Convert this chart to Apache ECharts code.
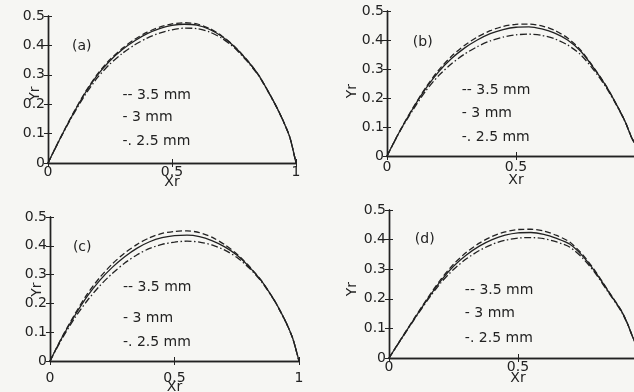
<!DOCTYPE html>
<html>
<head>
<meta charset="utf-8">
<script src="https://cdn.jsdelivr.net/npm/echarts@6/dist/echarts.min.js"></script>
<style>
  html, body { margin: 0; padding: 0; background: #f6f6f3; }
  #chart { width: 634px; height: 392px; }
</style>
</head>
<body>
<div id="chart"></div>
<script>
// Normalised abscissa Xr shared by every profile
const xr = [0, 0.05, 0.1, 0.15, 0.2, 0.25, 0.3, 0.35, 0.4, 0.45, 0.5, 0.55, 0.6, 0.65, 0.7, 0.75, 0.8, 0.85, 0.9, 0.925, 0.95, 0.975, 1];

// Panel (a): Yr profiles for 3.5 mm, 3 mm, 2.5 mm
const a35 = [0, 0.086, 0.167, 0.241, 0.303, 0.352, 0.39, 0.421, 0.445, 0.462, 0.473, 0.477, 0.473, 0.458, 0.433, 0.398, 0.353, 0.298, 0.225, 0.185, 0.14, 0.088, 0];
const a30 = [0, 0.085, 0.165, 0.238, 0.3, 0.348, 0.386, 0.416, 0.44, 0.457, 0.468, 0.472, 0.469, 0.455, 0.431, 0.397, 0.352, 0.298, 0.225, 0.185, 0.14, 0.088, 0];
const a25 = [0, 0.084, 0.162, 0.232, 0.291, 0.337, 0.373, 0.402, 0.425, 0.442, 0.453, 0.459, 0.457, 0.446, 0.425, 0.393, 0.349, 0.296, 0.224, 0.184, 0.14, 0.088, 0];

// Panel (b)
const b35 = [0, 0.087, 0.165, 0.236, 0.296, 0.344, 0.381, 0.41, 0.432, 0.447, 0.454, 0.455, 0.449, 0.433, 0.407, 0.366, 0.307, 0.241, 0.16, 0.115, 0.06, 0.025, 0];
const b30 = [0, 0.086, 0.163, 0.232, 0.29, 0.336, 0.372, 0.4, 0.422, 0.436, 0.444, 0.445, 0.438, 0.424, 0.4, 0.362, 0.305, 0.24, 0.16, 0.115, 0.06, 0.025, 0];
const b25 = [0, 0.085, 0.158, 0.224, 0.277, 0.318, 0.351, 0.377, 0.397, 0.41, 0.418, 0.42, 0.416, 0.404, 0.383, 0.35, 0.298, 0.236, 0.158, 0.114, 0.06, 0.025, 0];

// Panel (c)
const c35 = [0, 0.086, 0.163, 0.233, 0.29, 0.337, 0.375, 0.405, 0.428, 0.443, 0.45, 0.452, 0.446, 0.43, 0.405, 0.372, 0.329, 0.278, 0.212, 0.173, 0.13, 0.078, 0];
const c30 = [0, 0.084, 0.158, 0.225, 0.28, 0.325, 0.362, 0.392, 0.414, 0.428, 0.435, 0.437, 0.432, 0.418, 0.397, 0.368, 0.327, 0.277, 0.212, 0.173, 0.13, 0.078, 0];
const c25 = [0, 0.08, 0.15, 0.21, 0.261, 0.304, 0.34, 0.369, 0.391, 0.405, 0.413, 0.416, 0.413, 0.403, 0.386, 0.36, 0.323, 0.275, 0.211, 0.172, 0.13, 0.078, 0];

// Panel (d)
const d35 = [0, 0.069, 0.137, 0.203, 0.265, 0.317, 0.357, 0.388, 0.411, 0.426, 0.434, 0.435, 0.429, 0.414, 0.392, 0.35, 0.293, 0.227, 0.161, 0.115, 0.06, 0.028, 0];
const d30 = [0, 0.068, 0.135, 0.2, 0.26, 0.31, 0.348, 0.378, 0.4, 0.415, 0.423, 0.424, 0.418, 0.404, 0.385, 0.345, 0.29, 0.225, 0.16, 0.115, 0.06, 0.028, 0];
const d25 = [0, 0.067, 0.133, 0.196, 0.253, 0.299, 0.335, 0.363, 0.384, 0.398, 0.405, 0.407, 0.403, 0.392, 0.375, 0.338, 0.286, 0.222, 0.158, 0.114, 0.06, 0.028, 0];

const panelTags = ['(a)', '(b)', '(c)', '(d)'];
const seriesNames = ['3.5 mm', '3 mm', '2.5 mm'];
const keyTexts = ['-- 3.5 mm', '- 3 mm', '-. 2.5 mm'];
const xAxisName = 'Xr';
const yAxisName = 'Yr';

const panelData = [[a35, a30, a25], [b35, b30, b25], [c35, c30, c25], [d35, d30, d25]];

// ---- layout and styling ----
const INK = '#222222';
const FONT = 'DejaVu Sans';
const FS = 14;
const grids = [
  { left: 48,  top: 16,  width: 248, height: 147 },
  { left: 387, top: 11,  width: 258, height: 145 },
  { left: 50,  top: 217, width: 249, height: 144 },
  { left: 389, top: 210, width: 258, height: 148 }
];
const xLabelMargins = [2, 4, 10, 2];
const xNameGaps = [12, 17, 19, 13];
// y-axis title: horizontal pixel offset from the left axis, vertical position in data units
const yTitlePos = [[-13, 0.236], [-35, 0.224], [-13, 0.248], [-37, 0.233]];
const lineTypes = [[6, 3], 'solid', [7, 2.5, 1.5, 2.5]];
// key text anchor and tag anchor (data coordinates inside each panel)
const keyPos = [
  { x: 0.30, y: [0.231, 0.155, 0.072] },
  { x: 0.29, y: [0.228, 0.148, 0.066] },
  { x: 0.293, y: [0.255, 0.147, 0.063] },
  { x: 0.294, y: [0.23, 0.151, 0.068] }
];
const tagPos = [[0.097, 0.397], [0.10, 0.393], [0.092, 0.395], [0.10, 0.40]];

const chart = echarts.init(document.getElementById('chart'), null, { renderer: 'canvas' });

const xAxes = [], yAxes = [], series = [];
grids.forEach((g, i) => {
  const baseLabel = { color: INK, fontFamily: FONT, fontSize: FS };
  const nameStyle = { color: INK, fontFamily: FONT, fontSize: FS };
  const frameLine = { show: true, lineStyle: { color: INK, width: 1.4 } };
  const inTick = { show: true, inside: true, length: 4, lineStyle: { color: INK } };
  xAxes.push({
    type: 'value', gridIndex: i, min: 0, max: 1, interval: 0.5, position: 'bottom',
    name: xAxisName, nameLocation: 'middle', nameGap: xNameGaps[i], nameMoveOverlap: false,
    nameTextStyle: nameStyle,
    axisLine: frameLine, axisTick: inTick,
    axisLabel: Object.assign({ margin: xLabelMargins[i], formatter: v => String(v) }, baseLabel),
    splitLine: { show: false }
  });
  xAxes.push({
    type: 'value', gridIndex: i, min: 0, max: 1, interval: 0.5, position: 'top',
    axisLine: frameLine, axisTick: inTick,
    axisLabel: { show: false }, splitLine: { show: false }
  });
  yAxes.push({
    type: 'value', gridIndex: i, min: 0, max: 0.5, interval: 0.1, position: 'left',
    axisLine: frameLine, axisTick: inTick,
    axisLabel: Object.assign({ margin: 3, formatter: v => String(+v.toFixed(1)) }, baseLabel),
    splitLine: { show: false }
  });
  yAxes.push({
    type: 'value', gridIndex: i, min: 0, max: 0.5, interval: 0.1, position: 'right',
    axisLine: frameLine, axisTick: inTick,
    axisLabel: { show: false }, splitLine: { show: false }
  });
  panelData[i].forEach((ys, k) => {
    series.push({
      type: 'line', name: seriesNames[k],
      xAxisIndex: 2 * i, yAxisIndex: 2 * i,
      data: xr.map((x, j) => [x, ys[j]]),
      showSymbol: false, smooth: 0.25, silent: true,
      lineStyle: { color: INK, width: 1.3, type: lineTypes[k] },
      z: 3 - k
    });
  });
});

chart.setOption({
  backgroundColor: '#f6f6f3',
  animation: false,
  grid: grids.map(g => Object.assign({ containLabel: false, outerBoundsMode: 'none' }, g)),
  xAxis: xAxes,
  yAxis: yAxes,
  series: series
});

// Panel tags, y titles and line-style keys placed relative to each panel
const graphics = [];
const textStyle = (t, align) => ({
  text: t, fill: INK, font: FS + 'px "' + FONT + '"',
  textAlign: align, textVerticalAlign: 'middle', align: align, verticalAlign: 'middle'
});
grids.forEach((g, i) => {
  const tp = chart.convertToPixel({ gridIndex: i }, tagPos[i]);
  graphics.push({ type: 'text', x: tp[0], y: tp[1], silent: true, style: textStyle(panelTags[i], 'left') });
  const yp = chart.convertToPixel({ gridIndex: i }, [0, yTitlePos[i][1]]);
  graphics.push({
    type: 'text', x: yp[0] + yTitlePos[i][0], y: yp[1], rotation: Math.PI / 2, silent: true,
    style: textStyle(yAxisName, 'center')
  });
  keyTexts.forEach((t, k) => {
    const p = chart.convertToPixel({ gridIndex: i }, [keyPos[i].x, keyPos[i].y[k]]);
    graphics.push({ type: 'text', x: p[0], y: p[1], silent: true, style: textStyle(t, 'left') });
  });
});
chart.setOption({ graphic: graphics });
</script>
</body>
</html>
